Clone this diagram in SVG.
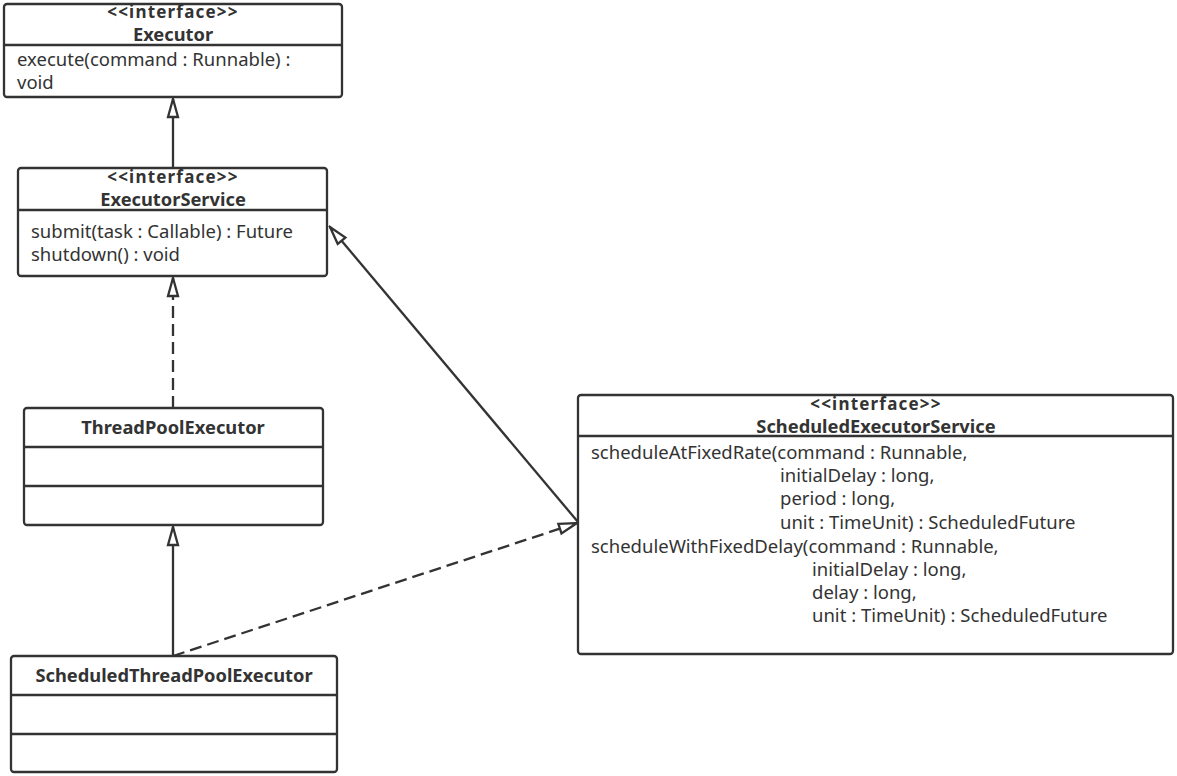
<svg xmlns="http://www.w3.org/2000/svg" width="1177" height="776" viewBox="0 0 1177 776">
<style>
.box{fill:#fff;stroke:#333;stroke-width:2.3}
.sep{stroke:#333;stroke-width:2.3}
.t{font-family:"Noto Sans","Open Sans",sans-serif;font-size:18.5px;fill:#333}
.b{font-weight:bold;text-anchor:middle;font-size:18.3px}
.st{letter-spacing:1.2px;font-size:17px}
.edge{fill:none;stroke:#333;stroke-width:2.3}
.dash{stroke-dasharray:12,6}
</style>
<defs>
<marker id="tri" markerUnits="userSpaceOnUse" markerWidth="22" markerHeight="14" viewBox="0 0 22 14" refX="20" refY="7" orient="auto">
<path d="M2,2 L20,7 L2,12 Z" fill="#fff" stroke="#333" stroke-width="2.3"/>
</marker>
</defs>
<rect width="1177" height="776" fill="#fff"/>
<g id="connectors">
<line class="edge" x1="173" y1="168" x2="173" y2="99" marker-end="url(#tri)"/>
<line class="edge dash" x1="173" y1="408" x2="173" y2="278" marker-end="url(#tri)"/>
<line class="edge" x1="173" y1="656" x2="173" y2="527" marker-end="url(#tri)"/>
<line class="edge dash" x1="173" y1="656" x2="577" y2="523" marker-end="url(#tri)"/>
<line class="edge" x1="578" y1="522" x2="330" y2="227" marker-end="url(#tri)"/>
</g>
<g id="Executor">
<rect class="box" x="4" y="4" width="338" height="93" rx="3"/>
<line class="sep" x1="4" y1="45" x2="342" y2="45"/>
<text class="t b st" x="173" y="18">&lt;&lt;interface&gt;&gt;</text>
<text class="t b" x="173" y="41">Executor</text>
<text class="t" x="17" y="66">execute(command : Runnable) :</text>
<text class="t" x="17" y="89">void</text>
</g>
<g id="ExecutorService">
<rect class="box" x="18" y="168" width="309" height="108" rx="3"/>
<line class="sep" x1="18" y1="210" x2="327" y2="210"/>
<text class="t b st" x="173" y="183">&lt;&lt;interface&gt;&gt;</text>
<text class="t b" x="173" y="206">ExecutorService</text>
<text class="t" x="31" y="238">submit(task : Callable) : Future</text>
<text class="t" x="31" y="261">shutdown() : void</text>
</g>
<g id="ThreadPoolExecutor">
<rect class="box" x="24" y="408" width="299" height="117" rx="3"/>
<line class="sep" x1="24" y1="447" x2="323" y2="447"/>
<line class="sep" x1="24" y1="486" x2="323" y2="486"/>
<text class="t b" x="173" y="434">ThreadPoolExecutor</text>
</g>
<g id="ScheduledThreadPoolExecutor">
<rect class="box" x="11" y="656" width="326" height="116" rx="3"/>
<line class="sep" x1="11" y1="695" x2="337" y2="695"/>
<line class="sep" x1="11" y1="734" x2="337" y2="734"/>
<text class="t b" x="174" y="682">ScheduledThreadPoolExecutor</text>
</g>
<g id="ScheduledExecutorService">
<rect class="box" x="578" y="395" width="595" height="259" rx="3"/>
<line class="sep" x1="578" y1="436" x2="1173" y2="436"/>
<text class="t b st" x="876" y="410">&lt;&lt;interface&gt;&gt;</text>
<text class="t b" x="876" y="433">ScheduledExecutorService</text>
<text class="t" x="591" y="459">scheduleAtFixedRate(command : Runnable,</text>
<text class="t" x="780" y="482">initialDelay : long,</text>
<text class="t" x="780" y="505">period : long,</text>
<text class="t" x="780" y="529">unit : TimeUnit) : ScheduledFuture</text>
<text class="t" x="591" y="553">scheduleWithFixedDelay(command : Runnable,</text>
<text class="t" x="812" y="576">initialDelay : long,</text>
<text class="t" x="812" y="599">delay : long,</text>
<text class="t" x="812" y="622">unit : TimeUnit) : ScheduledFuture</text>
</g>
</svg>
